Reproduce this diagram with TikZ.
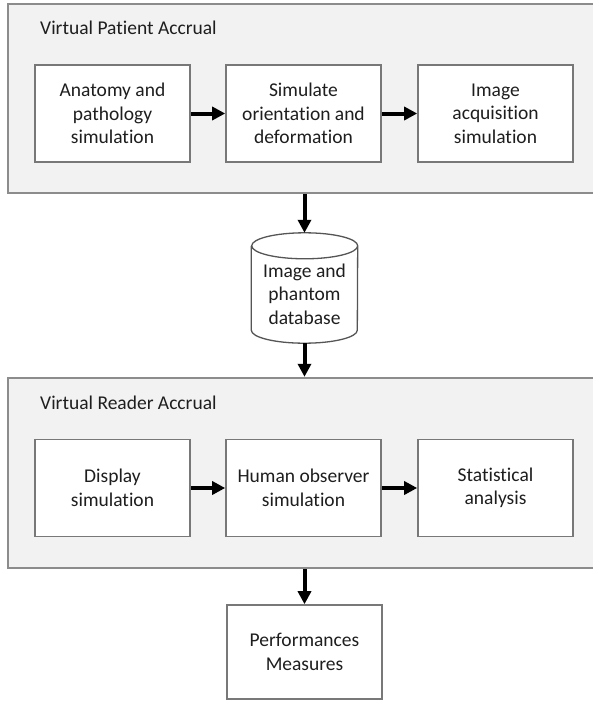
\documentclass[tikz,border=0pt]{standalone}
\usepackage{fontspec}
\setmainfont[Ligatures=NoCommon]{Carlito}
\usetikzlibrary{arrows.meta}
\definecolor{grpfill}{RGB}{242,242,242}
\definecolor{grpline}{RGB}{140,140,140}
\definecolor{boxline}{RGB}{120,120,120}
\definecolor{cylline}{RGB}{85,85,85}
\definecolor{txt}{RGB}{30,30,30}
\begin{document}
\begin{tikzpicture}[x=1pt,y=-1pt,
  font=\fontsize{19.5}{23.5}\selectfont,
  group/.style={draw=grpline, fill=grpfill, line width=2.4pt, minimum width=593pt, inner sep=0pt},
  procbox/.style={draw=boxline, fill=white, line width=1.6pt, minimum width=155pt, minimum height=97pt, align=center, text=txt, inner sep=0pt},
  flow/.style={-{Triangle[length=13pt,width=13pt]}, line width=4pt, black},
  grptitle/.style={anchor=west, text=txt, inner sep=0pt}]
\useasboundingbox (0,0) rectangle (593,701);
\fill[white] (0,0) rectangle (593,701);
% groups
\node[group, minimum height=189pt] (g1) at (304.5,98.5) {};
\node[group, minimum height=190pt] (g2) at (304.5,473) {};
\node[grptitle] (t1) at (40,28) {Virtual Patient Accrual};
\node[grptitle] (t2) at (40,403) {Virtual Reader Accrual};
% top row
\node[procbox] (a1) at (112.5,113.5) {Anatomy and\\pathology\\simulation};
\node[procbox] (a2) at (303.5,113.5) {Simulate\\orientation and\\deformation};
\node[procbox] (a3) at (495.5,113.5) {Image\\acquisition\\simulation};
% bottom row
\node[procbox] (b1) at (112.5,488) {Display\\simulation};
\node[procbox] (b2) at (303.5,488) {Human observer\\simulation};
\node[procbox] (b3) at (495.5,488) {Statistical\\analysis};
% database
\node[minimum width=106pt, minimum height=110pt, inner sep=0pt] (db) at (304.5,288) {};
\filldraw[fill=white, draw=cylline, line width=1.3pt]
  ([yshift=-13pt]db.north west) -- ([yshift=13pt]db.south west)
  arc[start angle=180, end angle=360, x radius=53pt, y radius=13pt]
  -- ([yshift=-13pt]db.north east)
  arc[start angle=0, end angle=180, x radius=53pt, y radius=13pt]
  arc[start angle=180, end angle=360, x radius=53pt, y radius=13pt];
\node[align=center, text=txt, inner sep=0pt] (dbt) at (304.5,294) {Image and\\phantom\\database};
% performance
\node[procbox, minimum height=94pt] (pm) at (304.5,652) {Performances\\Measures};
% connectors
\draw[flow] (a1) -- (a2);
\draw[flow] (a2) -- (a3);
\draw[flow] (b1) -- (b2);
\draw[flow] (b2) -- (b3);
\draw[flow] (g1.south -| db.north) -- (db.north);
\draw[flow] (db.south) -- (db.south |- g2.north);
\draw[flow] (g2.south -| pm.north) -- (pm.north);
\end{tikzpicture}
\end{document}
